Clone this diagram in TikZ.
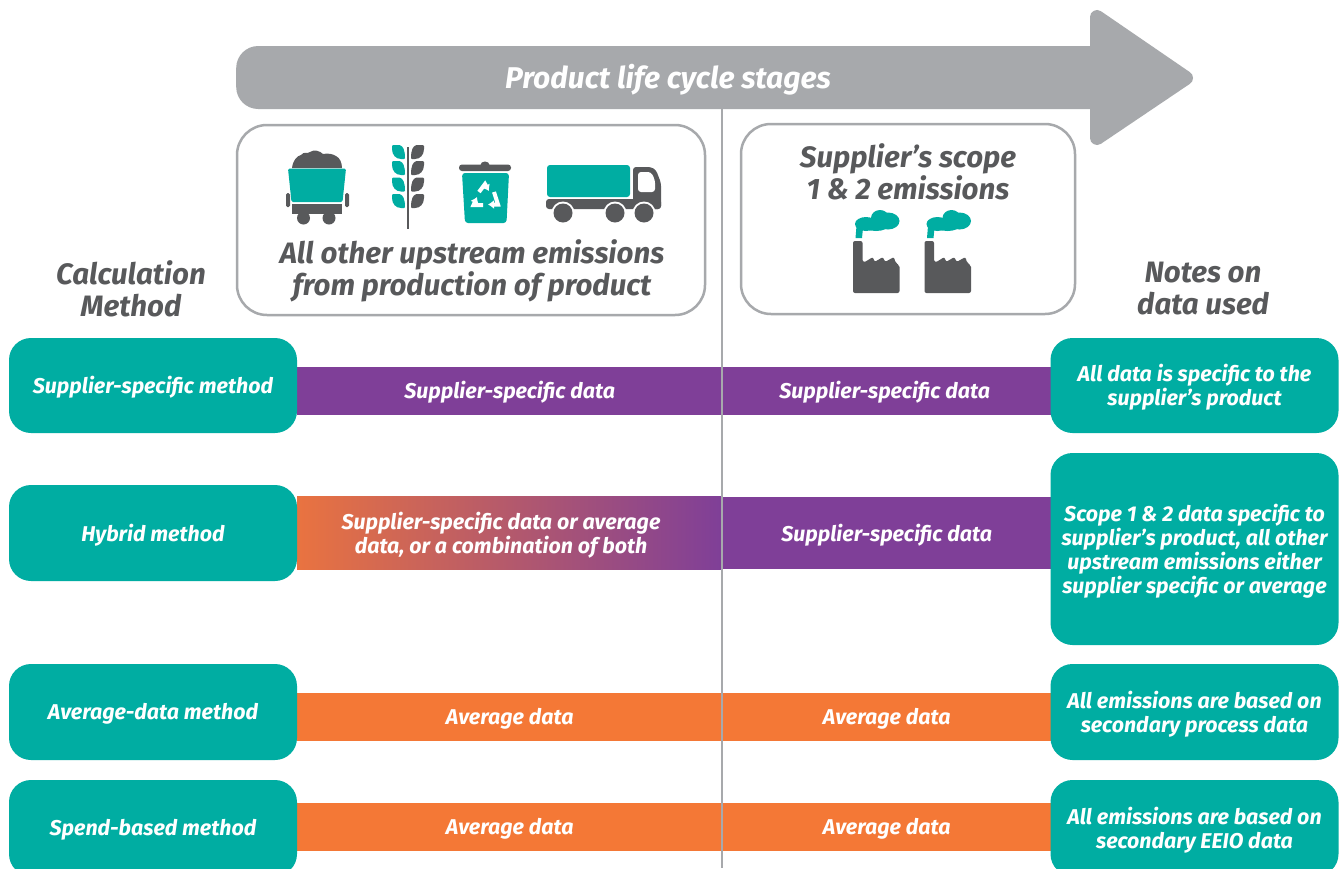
\documentclass[tikz,border=0pt]{standalone}
\usepackage{fontspec}
\usetikzlibrary{arrows.meta}
\setmainfont{Fira Sans}
\definecolor{teal}{HTML}{00ADA2}
\definecolor{dark}{HTML}{58595B}
\definecolor{gray1}{HTML}{A7A9AC}
\definecolor{purp}{HTML}{7F3F98}
\definecolor{oran}{HTML}{F47836}
\definecolor{oran2}{HTML}{E97340}
\tikzset{
  x=1pt,y=-1pt,
  txt/.style={font=\fontsize{#1}{32}\selectfont\bfseries\itshape,align=center,inner sep=0pt},
  head/.style={txt=29.5,text=dark},
  lbl/.style={text=white,font=\fontsize{21.4}{24}\selectfont\bfseries\itshape,align=center,inner sep=0pt,yshift=-2pt},
  lblup/.style={lbl,yshift=3pt},
  sidebox/.style={fill=teal,rounded corners=22pt,minimum width=288pt,inner sep=0pt},
  seg/.style={minimum height=48pt,inner sep=0pt},
  panel/.style={draw=gray1,line width=2.5pt,rounded corners=30pt,fill=white,inner sep=0pt},
}
\newcommand{\factory}[1]{%
\begin{scope}[shift={(#1,200)}]
  \fill[dark,rounded corners=2pt] (23,41)--(32.5,41)--(32.5,62)--(34,62.5)--(43,57)--(44.5,62)--(53,57)--(55,62)--(64,57)--(65.5,63)--(69.5,65)--(69.5,93)--(23,93)--cycle;
  \fill[teal] (25.5,38)--(32,38)--(33,28)--(27,20)--cycle;
  \fill[teal] (36,24) ellipse [x radius=11,y radius=7];
  \fill[teal] (50,18) ellipse [x radius=9,y radius=8];
  \fill[teal] (58,21) ellipse [x radius=11.5,y radius=8.5];
  \fill[teal] (46,25) ellipse [x radius=13,y radius=6];
\end{scope}}
\newcommand{\leafL}[1]{\fill[teal,rounded corners=1pt] (392,#1) -- (399,#1) .. controls (403,#1+1) and (405,#1+5) .. (405,#1+14) -- (402,#1+14) .. controls (396,#1+14) and (392,#1+10) .. (392,#1+3) -- cycle;}
\newcommand{\leafR}[1]{\fill[dark,rounded corners=1pt] (424,#1) -- (417,#1) .. controls (413,#1+1) and (411,#1+5) .. (411,#1+14) -- (414,#1+14) .. controls (420,#1+14) and (424,#1+10) .. (424,#1+3) -- cycle;}
\begin{document}
\begin{tikzpicture}
\clip (0,0) rectangle (1342,868);
\fill[white] (0,0) rectangle (1342,868);
% big arrow
\filldraw[gray1,line width=14pt,line join=round] (1097,17)--(1186,78)--(1097,138)--cycle;
\node[fill=gray1,rounded corners=22pt,minimum width=880pt,minimum height=63pt,inner sep=0pt,anchor=west] (arrowbody) at (236,77.5) {};
\node[txt=30,text=white] (title) at (668,80) {Product life cycle stages};
% panels
\node[panel,minimum width=468pt,minimum height=190pt] (panelA) at (471,220) {};
\node[panel,minimum width=334pt,minimum height=190pt] (panelB) at (908,219) {};
\node[head] (upstream) at (472,271) {All other upstream emissions\\from production of product};
\node[head] (scope) at (908,172) {Supplier’s scope\\1 \& 2 emissions};
\node[head] (calc) at (131,289) {Calculation\\Method};
\node[head] (notes) at (1203,289) {Notes on\\data used};
% coal cart
\fill[dark] (292,168) .. controls (293,160) and (297,156) .. (301,155) .. controls (304,151) and (308,154) .. (310,152) .. controls (314,149) and (320,151) .. (323,154) .. controls (328,153) and (333,154) .. (336,156) .. controls (340,158) and (342,163) .. (342,168) -- cycle;
\fill[teal,rounded corners=1.5pt] (288,168.5)--(346,168.5)--(342.5,202)--(291.5,202)--cycle;
\fill[dark] (292,203.5) rectangle (342,214);
\fill[dark,rounded corners=1.5pt] (286,193) rectangle (290,207);
\fill[dark,rounded corners=1.5pt] (345,193) rectangle (349,207);
\fill[dark] (303.5,218) circle (6.5) (329,218) circle (6.5);
% wheat
\fill[dark] (407,147) rectangle (409,229);
\leafL{145}\leafL{161}\leafL{177.5}\leafL{194}
\leafR{145}\leafR{161}\leafR{177.5}\leafR{194}
% bin
\fill[dark,rounded corners=3pt] (459,164.5) rectangle (511,171);
\fill[dark] (485,165) ellipse [x radius=4.5,y radius=3.5];
\fill[teal,rounded corners=3pt] (462,173)--(509,173)--(506.5,223)--(465,223)--cycle;
\begin{scope}[white,line width=4pt]
  \draw[-{Latex[length=6pt,width=9pt]}] (483,205)--(473.5,205)--(477,197);
  \draw[-{Latex[length=6pt,width=9pt]}] (479,192)--(485,184)--(489,191);
  \draw[-{Latex[length=6pt,width=9pt]}] (494,192)--(498,204.5)--(488,204.5);
\end{scope}
% truck
\fill[teal,rounded corners=3pt] (547,165) rectangle (630,197);
\fill[dark,rounded corners=3pt] (633,167)--(651,167)--(656,170)--(661,183)--(661,209)--(633,209)--cycle;
\fill[dark,rounded corners=3pt] (546,199) rectangle (661,209);
\fill[white,rounded corners=3pt] (638,172)--(651,172)--(655,180)--(655,192)--(638,192)--cycle;
\foreach \wx in {563,615,644}{\fill[white] (\wx,213) circle (11.5);\fill[dark] (\wx,213) circle (9.5);}
% factories
\factory{830}
\factory{901.5}
% bars
\node[seg,fill=purp,minimum width=425pt,anchor=west,label={[lbl,yshift=1pt]center:Supplier-specific data}] (s1a) at (297,391) {};
\node[seg,fill=purp,minimum width=329pt,anchor=west,label={[lbl,yshift=1pt,xshift=-2pt]center:Supplier-specific data}] (s1b) at (722,391) {};
\node[seg,left color=oran2,right color=purp,minimum width=425pt,minimum height=73pt,anchor=west] (s2a) at (297,532.5) {};
\node[lbl] (s2at) at (501,533.5) {Supplier-specific data or average\\data, or a combination of both};
\node[seg,fill=purp,minimum width=329pt,minimum height=72pt,anchor=west,label={[lbl]center:Supplier-specific data}] (s2b) at (722,533) {};
\node[seg,fill=oran,minimum width=425pt,anchor=west,label={[lbl]center:Average data}] (s3a) at (297,717) {};
\node[seg,fill=oran,minimum width=329pt,anchor=west,label={[lbl]center:Average data}] (s3b) at (722,717) {};
\node[seg,fill=oran,minimum width=425pt,anchor=west,label={[lbl]center:Average data}] (s4a) at (297,827) {};
\node[seg,fill=oran,minimum width=329pt,anchor=west,label={[lbl]center:Average data}] (s4b) at (722,827) {};
% vertical divider
\coordinate (divtop) at (722,109);
\coordinate (divbot) at (722,868);
\draw[gray1,line width=1.2pt] (divtop)--(divbot);
% left boxes
\node[sidebox,minimum height=95pt,label={[lbl]center:Supplier-specific method}] (m1) at (153,385.5) {};
\node[sidebox,minimum height=96pt,label={[lbl]center:Hybrid method}] (m2) at (153,533) {};
\node[sidebox,minimum height=96pt,label={[lbl]center:Average-data method}] (m3) at (153,712) {};
\node[sidebox,minimum height=96pt,label={[lbl]center:Spend-based method}] (m4) at (153,828) {};
% right boxes
\node[sidebox,minimum height=95pt,label={[lbl]center:{All data is specific to the\\supplier’s product}}] (n1) at (1194.5,385.5) {};
\node[sidebox,minimum height=192pt,label={[lbl]center:{Scope 1 \& 2 data specific to\\supplier’s product, all other\\upstream emissions either\\supplier specific or average}}] (n2) at (1194.5,549) {};
\node[sidebox,minimum height=96pt,label={[lbl]center:{All emissions are based on\\secondary process data}}] (n3) at (1194.5,712) {};
\node[sidebox,minimum height=96pt,label={[lbl]center:{All emissions are based on\\secondary EEIO data}}] (n4) at (1194.5,828) {};
\end{tikzpicture}
\end{document}
